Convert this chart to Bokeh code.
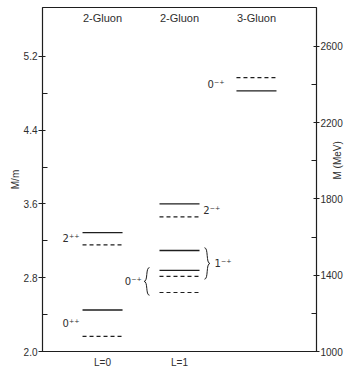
import math
from bokeh.plotting import figure
from bokeh.models import Range1d, LinearAxis, FixedTicker
from bokeh.core.properties import value
from bokeh.embed import file_html
from bokeh.resources import INLINE

# ---------------- data ----------------
column_titles = ["2-Gluon", "2-Gluon", "3-Gluon"]
column_L = ["L=0", "L=1"]
state_column = [0, 0, 1, 1, 1, 2]
state_names = ["0\u207a\u207a", "2\u207a\u207a", "0\u207b\u207a", "1\u207b\u207a", "2\u207b\u207a", "0\u207b\u207a"]
solid_mass = [2.45, 3.29, 2.88, 3.095, 3.60, 4.825]    # M/m, solid levels
dashed_mass = [2.165, 3.157, 2.64, 2.814, 3.46, 4.97]  # M/m, dashed levels
left_ticks = [2.0, 2.8, 3.6, 4.4, 5.2]
right_ticks = [1000, 1400, 1800, 2200, 2600]

# ---------------- style ----------------
FONT = "Liberation Sans"
SUPFONT = "DejaVu Sans"
INK = "#1e1e1e"
TXT = "#2e2e2e"
HALF = 0.26          # half bar width (column units)
YMIN, YMAX = 2.0, 5.73
MEV_MIN, MEV_MAX = 1000, 2804

p = figure(width=357, height=370,
           x_range=Range1d(-0.78, 2.78), y_range=Range1d(YMIN, YMAX),
           output_backend="svg", toolbar_location=None,
           min_border_left=42, min_border_right=41, min_border_top=7, min_border_bottom=18)
p.extra_y_ranges = {"mev": Range1d(MEV_MIN, MEV_MAX)}
p.xgrid.visible = False
p.ygrid.visible = False
p.outline_line_color = INK
p.outline_line_width = 1.2
p.background_fill_color = "white"
p.border_fill_color = "white"

# left axis
la = p.yaxis[0]
la.ticker = FixedTicker(ticks=left_ticks,
                        minor_ticks=[(a + b) / 2 for a, b in zip(left_ticks[:-1], left_ticks[1:])])
la.major_label_overrides = {t: f"{t:.1f}" for t in left_ticks}
la.axis_line_color = None
la.major_tick_in = 3
la.major_tick_out = 4
la.minor_tick_in = 5
la.minor_tick_out = 0
la.major_tick_line_color = INK
la.minor_tick_line_color = INK
la.major_label_standoff = 1
la.major_label_text_font = FONT
la.major_label_text_font_size = "10px"
la.major_label_text_color = TXT
la.axis_label = "M/m"
la.axis_label_standoff = 0
la.axis_label_text_font = FONT
la.axis_label_text_font_style = "normal"
la.axis_label_text_font_size = "10px"
la.axis_label_text_color = TXT

# right axis
ra = LinearAxis(y_range_name="mev",
                ticker=FixedTicker(ticks=right_ticks,
                                   minor_ticks=[(a + b) / 2 for a, b in zip(right_ticks[:-1], right_ticks[1:])]))
ra.axis_line_color = None
ra.major_tick_in = 3
ra.major_tick_out = 3
ra.minor_tick_in = 5
ra.minor_tick_out = 0
ra.major_tick_line_color = INK
ra.minor_tick_line_color = INK
ra.major_label_standoff = 1
ra.major_label_text_font = FONT
ra.major_label_text_font_size = "10px"
ra.major_label_text_color = TXT
ra.axis_label = "M (MeV)"
ra.axis_label_orientation = math.pi / 2
ra.axis_label_standoff = -8
ra.axis_label_text_font = FONT
ra.axis_label_text_font_style = "normal"
ra.axis_label_text_font_size = "10px"
ra.axis_label_text_color = TXT
p.add_layout(ra, "right")

# bottom axis (L labels)
ba = p.xaxis[0]
ba.ticker = FixedTicker(ticks=list(range(len(column_L))))
ba.major_label_overrides = {i: s for i, s in enumerate(column_L)}
ba.axis_line_color = None
ba.major_tick_line_color = None
ba.minor_tick_line_color = None
ba.major_tick_in = 0
ba.major_tick_out = 0
ba.minor_tick_in = 0
ba.minor_tick_out = 0
ba.major_label_standoff = 5
ba.major_label_text_font = FONT
ba.major_label_text_font_size = "10px"
ba.major_label_text_color = TXT

# level lines
xs0 = [c - HALF for c in state_column]
xs1 = [c + HALF for c in state_column]
p.segment(x0=xs0, x1=xs1, y0=solid_mass, y1=solid_mass, line_color=INK, line_width=1.3)
p.segment(x0=xs0, x1=xs1, y0=dashed_mass, y1=dashed_mass, line_color=INK, line_width=1.2,
          line_dash="4 3")

# column titles
p.text(x=list(range(len(column_titles))), y=[YMAX - 0.11] * len(column_titles), text=column_titles,
       text_font=value(FONT), text_font_size="11px", text_color=TXT,
       text_align="center", text_baseline="middle")

# state labels: (x offset from column centre, alignment)
label_pos = [(-HALF - 0.04, "right"), (-HALF - 0.04, "right"), (-0.49, "right"),
             (0.455, "left"), (HALF + 0.05, "left"), (-0.415, "right")]
for i, name in enumerate(state_names):
    dx, al = label_pos[i]
    ymid = (solid_mass[i] + dashed_mass[i]) / 2
    p.text(x=[state_column[i] + dx], y=[ymid], text=[name],
           text_font=value(SUPFONT), text_font_size="10px", text_color=TXT,
           text_align=al, text_baseline="middle")

# braces grouping the two 2-gluon L=1 states (0-+ on the left, 1-+ on the right)
def brace(i, x_end, w, pad=0.03):
    ytop = max(solid_mass[i], dashed_mass[i]) + pad
    ybot = min(solid_mass[i], dashed_mass[i]) - pad
    ym = (ytop + ybot) / 2
    p.bezier(x0=[x_end, x_end], y0=[ytop, ybot], x1=[x_end + w, x_end + w], y1=[ym, ym],
             cx0=[x_end + 0.75 * w, x_end + 0.75 * w], cy0=[ytop, ybot],
             cx1=[x_end + 0.25 * w, x_end + 0.25 * w], cy1=[ym, ym],
             line_color=INK, line_width=1.0)

brace(2, state_column[2] - 0.39, -0.07)
brace(3, state_column[3] + 0.325, 0.07)

open("out.html", "w").write(file_html(p, INLINE))
